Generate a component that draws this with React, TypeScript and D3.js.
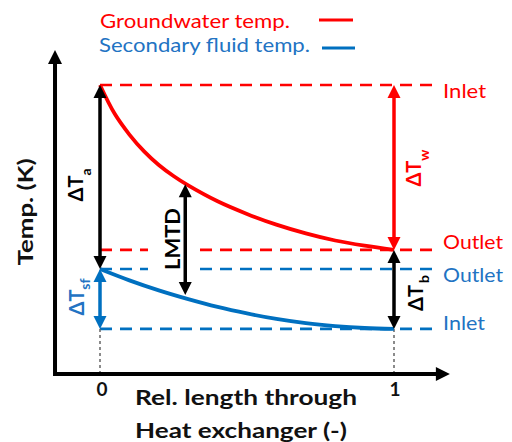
import React from "react";
import * as d3 from "d3";

// ---- data ----
const relLengthGW = [0, 0.05, 0.1, 0.15, 0.2, 0.25, 0.3, 0.4, 0.5, 0.6, 0.7, 0.8, 0.9, 1];
const groundwaterTemp = [8.92, 8.03, 7.39, 6.87, 6.45, 6.11, 5.82, 5.33, 4.94, 4.61, 4.34, 4.12, 3.96, 3.83];
const relLengthSF = [0, 0.1, 0.2, 0.3, 0.4, 0.5, 0.6, 0.7, 0.8, 0.9, 1];
const secondaryTemp = [3.24, 2.89, 2.58, 2.31, 2.07, 1.87, 1.7, 1.57, 1.48, 1.42, 1.39];

const gwInlet = 8.92;
const gwOutlet = 3.83;
const sfOutlet = 3.24;
const sfInlet = 1.39;

const lmtdAt = 0.29;
const lmtdTop = 5.86;
const lmtdBottom = 2.44;

const xTicks = [0, 1];
const legendLabels = ["Groundwater temp.", "Secondary fluid temp."];
const levelLabels = ["Inlet", "Outlet", "Outlet", "Inlet"];
const xTitle = ["Rel. length through", "Heat exchanger (-)"];
const yTitle = "Temp. (K)";

const RED = "#FF0000";
const BLUE = "#0070C0";
const BLUE_TEXT = "#2273C3";
const FONT = "Lato, 'Noto Sans', sans-serif";

const W = 512;
const H = 442;

const x = d3.scaleLinear().domain([0, 1]).range([100, 394]);
const y = d3.scaleLinear().domain([0, 10]).range([374, 50]);

const yAxisAt = -0.153;
const xAxisEnd = 1.19;
const dashEnd = 1.155;
const labelAt = 1.167;

function VArrow({ xp, y1, y2, color }: { xp: number; y1: number; y2: number; color: string }) {
  const head = 13;
  const half = 6.5;
  return (
    <g>
      <line x1={xp} x2={xp} y1={y1 + head - 1} y2={y2 - head + 1} stroke={color} strokeWidth={3.5} />
      <path d={`M${xp},${y1} L${xp - half},${y1 + head} L${xp + half},${y1 + head} Z`} fill={color} />
      <path d={`M${xp},${y2} L${xp - half},${y2 - head} L${xp + half},${y2 - head} Z`} fill={color} />
    </g>
  );
}

function RotLabel({
  cx,
  cy,
  main,
  sub,
  color,
  size = 20,
  subDx = 0,
  subDy = 8,
}: {
  cx: number;
  cy: number;
  main: string;
  sub?: string;
  color: string;
  size?: number;
  subDx?: number;
  subDy?: number;
}) {
  return (
    <text
      transform={`translate(${cx},${cy}) rotate(-90)`}
      textAnchor="middle"
      fontFamily={FONT}
      fontWeight="bold"
      fontSize={size}
      fill={color}
    >
      <tspan>{main}</tspan>
      {sub ? (
        <tspan fontSize={14} dy={subDy} dx={subDx}>
          {sub}
        </tspan>
      ) : null}
    </text>
  );
}

export default function App() {
  const gwLine = d3
    .line<number>()
    .x((_, i) => x(relLengthGW[i]))
    .y((d) => y(d))
    .curve(d3.curveCatmullRom)(groundwaterTemp) as string;
  const sfLine = d3
    .line<number>()
    .x((_, i) => x(relLengthSF[i]))
    .y((d) => y(d))
    .curve(d3.curveCatmullRom)(secondaryTemp) as string;

  const ax = x(yAxisAt);
  const ay0 = y(0);
  const axTop = y(10);
  const axRight = x(xAxisEnd);

  const levels = [
    { v: gwInlet, c: RED, t: levelLabels[0], dy: 13, len: 43 },
    { v: gwOutlet, c: RED, t: levelLabels[1], dy: -1, len: 60 },
    { v: sfOutlet, c: BLUE, t: levelLabels[2], dy: 13, len: 60 },
    { v: sfInlet, c: BLUE, t: levelLabels[3], dy: 1, len: 42 },
  ];

  return (
    <svg
      width={W}
      height={H}
      viewBox={`0 0 ${W} ${H}`}
      style={{ position: "absolute", left: 0, top: 0, background: "#fff" }}
    >
      <rect x={0} y={0} width={W} height={H} fill="#fff" />

      {/* legend */}
      <text x={100} y={28} fontFamily={FONT} fontSize={20} fill={RED} textLength={190} lengthAdjust="spacingAndGlyphs">
        {legendLabels[0]}
      </text>
      <line x1={319} x2={353} y1={20} y2={20} stroke={RED} strokeWidth={3} />
      <text x={99} y={52} fontFamily={FONT} fontSize={20} fill={BLUE_TEXT} textLength={211} lengthAdjust="spacingAndGlyphs">
        {legendLabels[1]}
      </text>
      <line x1={322} x2={355} y1={48} y2={48} stroke={BLUE} strokeWidth={3} />

      {/* reference dashed levels */}
      {levels.map((l, i) => (
        <g key={i}>
          <line
            x1={x(0)}
            x2={x(dashEnd)}
            y1={y(l.v)}
            y2={y(l.v)}
            stroke={l.c}
            strokeWidth={2.7}
            strokeDasharray="12 8"
          />
          <text
            x={x(labelAt)}
            y={y(l.v) + l.dy}
            fontFamily={FONT}
            fontSize={19}
            fill={l.c === RED ? RED : BLUE_TEXT}
            textLength={l.len}
            lengthAdjust="spacingAndGlyphs"
          >
            {l.t}
          </text>
        </g>
      ))}

      {/* grey dotted drop lines */}
      {xTicks.map((t) => (
        <line
          key={t}
          x1={x(t)}
          x2={x(t)}
          y1={y(sfInlet)}
          y2={y(0)}
          stroke="#666"
          strokeWidth={1.5}
          strokeDasharray="3 3"
        />
      ))}

      {/* curves */}
      <path d={gwLine} fill="none" stroke={RED} strokeWidth={3.8} />
      <path d={sfLine} fill="none" stroke={BLUE} strokeWidth={3.8} />

      {/* axes */}
      <path
        d={`M${ax},${axTop + 12} L${ax},${ay0} L${axRight - 12},${ay0}`}
        fill="none"
        stroke="#000"
        strokeWidth={4}
        strokeLinejoin="miter"
      />
      <path d={`M${ax},${axTop} L${ax - 7},${axTop + 14} L${ax + 7},${axTop + 14} Z`} fill="#000" />
      <path d={`M${axRight},${ay0} L${axRight - 14},${ay0 - 7} L${axRight - 14},${ay0 + 7} Z`} fill="#000" />

      {/* tick labels */}
      {xTicks.map((t) => (
        <text
          key={t}
          x={x(t) + (t === 0 ? 2 : 1)}
          y={396}
          textAnchor="middle"
          fontFamily={FONT}
          fontWeight="bold"
          fontSize={19}
          fill="#111"
        >
          {t}
        </text>
      ))}

      {/* axis titles */}
      <text x={135} y={405} fontFamily={FONT} fontWeight="bold" fontSize={20} fill="#111" textLength={222} lengthAdjust="spacingAndGlyphs">
        {xTitle[0]}
      </text>
      <text x={135} y={438} fontFamily={FONT} fontWeight="bold" fontSize={20} fill="#111" textLength={212} lengthAdjust="spacingAndGlyphs">
        {xTitle[1]}
      </text>
      <text
        transform={`translate(33,212) rotate(-90)`}
        textAnchor="middle"
        fontFamily={FONT}
        fontWeight="bold"
        fontSize={20}
        fill="#111"
        textLength={107}
        lengthAdjust="spacingAndGlyphs"
      >
        {yTitle}
      </text>

      {/* LMTD box + label */}
      <rect x={148} y={205} width={44} height={68} fill="#fff" />
      <text
        transform={`translate(180,239) rotate(-90)`}
        textAnchor="middle"
        fontFamily={FONT}
        fontWeight="bold"
        fontSize={21}
        fill="#000"
        textLength={62}
        lengthAdjust="spacingAndGlyphs"
      >
        LMTD
      </text>

      {/* arrows */}
      <VArrow xp={x(0)} y1={y(gwInlet)} y2={y(sfOutlet)} color="#000" />
      <VArrow xp={x(0)} y1={y(sfOutlet)} y2={y(sfInlet)} color={BLUE} />
      <VArrow xp={x(lmtdAt)} y1={y(lmtdTop)} y2={y(lmtdBottom)} color="#000" />
      <VArrow xp={x(1)} y1={y(gwInlet)} y2={y(gwOutlet)} color={RED} />
      <VArrow xp={x(1)} y1={y(gwOutlet)} y2={y(sfInlet)} color="#000" />

      {/* delta labels */}
      <RotLabel cx={83} cy={185} main="ΔT" sub="a" color="#000" />
      <RotLabel cx={421} cy={168} main="ΔT" sub="w" color={RED} />
      <RotLabel cx={423} cy={293} main="ΔT" sub="b" color="#000" subDx={2} subDy={6} />
      <RotLabel cx={84} cy={297} main="ΔT" sub="sf" color={BLUE_TEXT} subDy={6} />
    </svg>
  );
}
